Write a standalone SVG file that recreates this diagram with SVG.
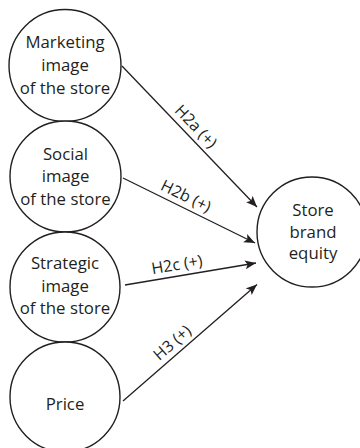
<svg xmlns="http://www.w3.org/2000/svg" width="360" height="448" viewBox="0 0 360 448">
  <style>
    .node circle { fill: #ffffff; stroke: #231f20; stroke-width: 1.4; }
    .node text { font-family: "Open Sans", "Noto Sans", sans-serif; font-size: 16.8px; fill: #231f20; text-anchor: middle; }
    .edge line { stroke: #231f20; stroke-width: 1.3; marker-end: url(#arrow); }
    .edge text { font-family: "Open Sans", "Noto Sans", sans-serif; font-size: 16px; fill: #231f20; text-anchor: middle; }
  </style>
  <defs>
    <marker id="arrow" markerUnits="userSpaceOnUse" markerWidth="12" markerHeight="10" refX="11" refY="4.5" orient="auto">
      <path d="M0,0 L11,4.5 L0,9 L2.5,4.5 Z" fill="#231f20"/>
    </marker>
  </defs>
  <rect width="360" height="448" fill="#ffffff"/>

  <!-- connectors -->
  <g id="connectors" class="edge">
    <g id="h2a">
      <line x1="122" y1="66" x2="257" y2="207"/>
      <text transform="translate(192,130.2) rotate(46.2)">H2a (+)</text>
    </g>
    <g id="h2b">
      <line x1="123" y1="178" x2="255" y2="243"/>
      <text transform="translate(183.6,201) rotate(26.2)">H2b (+)</text>
    </g>
    <g id="h2c">
      <line x1="125" y1="285" x2="256" y2="263"/>
      <text transform="translate(177.8,270) rotate(-9.5)">H2c (+)</text>
    </g>
    <g id="h3">
      <line x1="123" y1="401" x2="257" y2="284.5"/>
      <text transform="translate(175.8,346.8) rotate(-41)">H3 (+)</text>
    </g>
  </g>

  <!-- source constructs -->
  <g id="marketing-image" class="node">
    <circle cx="65" cy="65.5" r="56"/>
    <text x="65" y="48">Marketing</text>
    <text x="65" y="71">image</text>
    <text x="65" y="93.5">of the store</text>
  </g>
  <g id="social-image" class="node">
    <circle cx="65.5" cy="176.5" r="55.5"/>
    <text x="65.5" y="160">Social</text>
    <text x="65.5" y="182">image</text>
    <text x="65.5" y="204.5">of the store</text>
  </g>
  <g id="strategic-image" class="node">
    <circle cx="65" cy="287" r="55"/>
    <text x="65" y="269">Strategic</text>
    <text x="65" y="291.5">image</text>
    <text x="65" y="314">of the store</text>
  </g>
  <g id="price" class="node">
    <circle cx="65" cy="397" r="55"/>
    <text x="65" y="410">Price</text>
  </g>

  <!-- outcome construct -->
  <g id="store-brand-equity" class="node">
    <circle cx="312" cy="232" r="55"/>
    <text x="313" y="216">Store</text>
    <text x="313" y="238">brand</text>
    <text x="313" y="259">equity</text>
  </g>
</svg>
